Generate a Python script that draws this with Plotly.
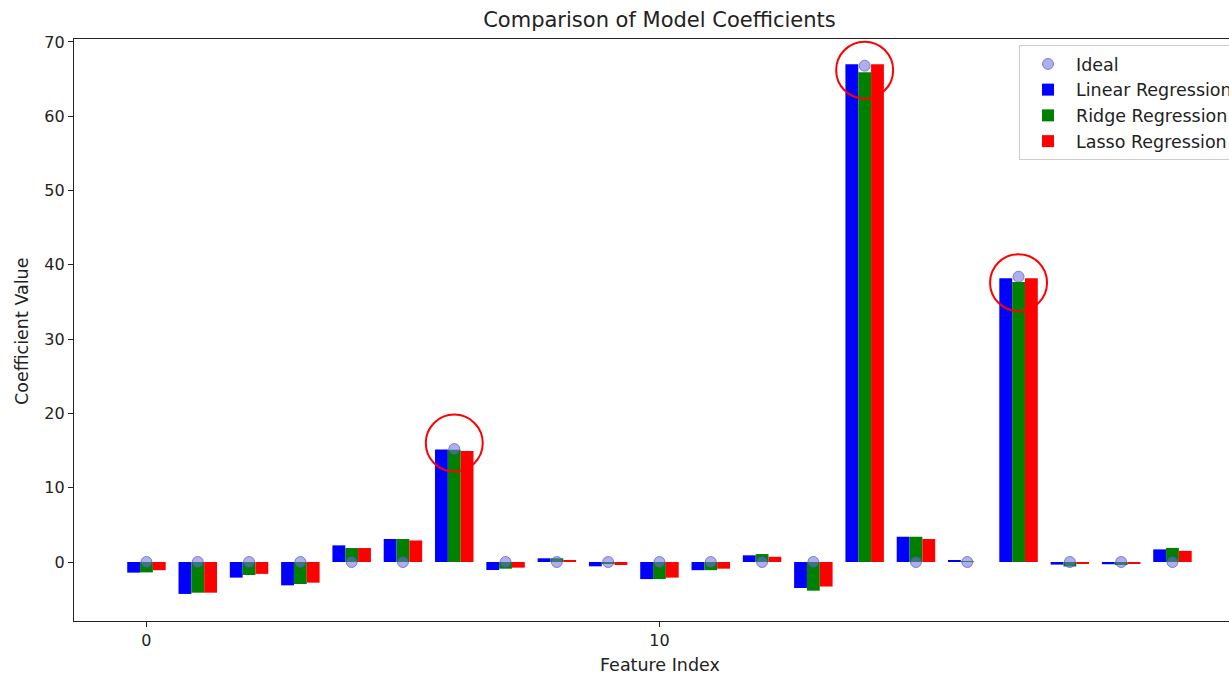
import plotly.graph_objects as go

features = list(range(21))
linear = [-1.43, -4.3, -2.1, -3.14, 2.24, 3.1, 15.15, -1.08, 0.5, -0.58, -2.3, -1.1, 0.9, -3.5, 67.0, 3.4, 0.25, 38.2, -0.35, -0.3, 1.7]
ridge = [-1.4, -4.13, -1.75, -2.96, 1.88, 3.1, 15.1, -0.9, 0.5, -0.2, -2.3, -1.1, 1.07, -3.86, 65.9, 3.4, 0.05, 37.7, -0.6, -0.4, 1.9]
lasso = [-1.1, -4.13, -1.6, -2.78, 1.88, 2.9, 14.95, -0.76, 0.25, -0.4, -2.1, -0.9, 0.7, -3.3, 67.0, 3.1, 0.0, 38.2, -0.25, -0.2, 1.5]
ideal = [0, 0, 0, 0, 0, 0, 15.2, 0, 0, 0, 0, 0, 0, 0, 66.8, 0, 0, 38.4, 0, 0, 0]
highlight_idx = [6, 14, 17]
highlight_y = [16.0, 66.2, 37.6]

FONT = "DejaVu Sans"
bw = 0.25

fig = go.Figure()
fig.add_trace(go.Bar(x=features, y=linear, name="Linear Regression", marker_color="#0000ff",
                     marker_line_width=0, width=bw, offset=-1.5 * bw, legendrank=2))
fig.add_trace(go.Bar(x=features, y=ridge, name="Ridge Regression", marker_color="#008000",
                     marker_line_width=0, width=bw, offset=-0.5 * bw, legendrank=3))
fig.add_trace(go.Bar(x=features, y=lasso, name="Lasso Regression", marker_color="#ff0000",
                     marker_line_width=0, width=bw, offset=0.5 * bw, legendrank=4))
fig.add_trace(go.Scatter(x=features, y=ideal, mode="markers", name="Ideal", legendrank=1,
                         marker=dict(size=11, color="rgba(110,110,225,0.55)",
                                     line=dict(color="rgba(70,70,170,0.6)", width=1))))
fig.add_trace(go.Scatter(x=highlight_idx, y=highlight_y, mode="markers", showlegend=False,
                         marker=dict(symbol="circle-open", size=57,
                                     line=dict(color="#ff0000", width=2), color="#ff0000")))

L, T, B = 74, 39, 54
W, H = 1229, 675
px_per_unit = 51.3
x0 = -1.4125
x1 = x0 + (W - L) / px_per_unit

fig.update_layout(
    width=W, height=H,
    margin=dict(l=L, r=0, t=T, b=B, autoexpand=False),
    barmode="overlay",
    plot_bgcolor="white", paper_bgcolor="white",
    font=dict(family=FONT, size=16, color="#222"),
    title=dict(text="Comparison of Model Coefficients", font=dict(family=FONT, size=21, color="#222"),
               xref="container", x=659.5 / W, xanchor="center",
               yref="container", y=1 - 20 / H, yanchor="middle"),
    legend=dict(x=(1019 - L) / (W - L), y=(H - B - 45) / (H - B - T), xanchor="left", yanchor="top",
                bgcolor="rgba(255,255,255,0.8)", bordercolor="#cccccc", borderwidth=1,
                font=dict(family=FONT, size=17.5, color="#222"), tracegroupgap=0,
                itemwidth=46),
    showlegend=True,
)
fig.update_xaxes(range=[x0, x1], tickvals=[0, 10], ticks="outside", ticklen=5, tickwidth=1,
                 tickcolor="#222", showline=True, linecolor="#222", linewidth=1.2, mirror=True,
                 showgrid=False, zeroline=False, tickfont=dict(size=16))
fig.update_yaxes(range=[-7.94, 70.39], tickvals=[0, 10, 20, 30, 40, 50, 60, 70], ticks="outside",
                 ticklen=5, tickwidth=1, tickcolor="#222", showline=True, linecolor="#222",
                 linewidth=1.2, mirror=False, showgrid=False, zeroline=False, tickfont=dict(size=16))

ph = H - B - T
fig.add_annotation(text="Feature Index", xref="paper", yref="paper",
                   x=(659.5 - L) / (W - L), y=(H - B - 665) / ph, showarrow=False,
                   xanchor="center", yanchor="middle", font=dict(family=FONT, size=17.5, color="#222"))
fig.add_annotation(text="Coefficient Value", xref="paper", yref="paper",
                   x=(22 - L) / (W - L), y=(H - B - 331) / ph, showarrow=False, textangle=-90,
                   xanchor="center", yanchor="middle", font=dict(family=FONT, size=17.5, color="#222"))

fig.write_html("out.html")
